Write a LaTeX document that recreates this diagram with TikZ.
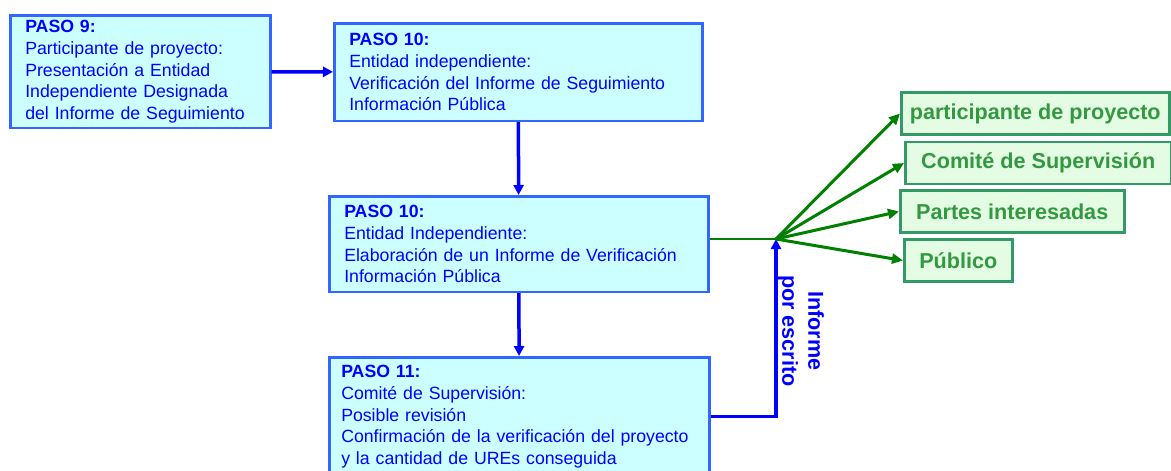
\documentclass[tikz,border=0pt]{standalone}
\usepackage{fontspec}
\setmainfont{Liberation Sans}
\usepackage{xcolor}
\usepackage{tikz}
\usetikzlibrary{arrows.meta, positioning}

\definecolor{pasofill}{HTML}{CCFFFF}
\definecolor{pasoline}{HTML}{3366FF}
\definecolor{pasotext}{HTML}{0000FF}
\definecolor{destfill}{HTML}{E3FCE3}
\definecolor{destline}{HTML}{339966}
\definecolor{desttext}{HTML}{339940}
\definecolor{flecha}{HTML}{008000}

\begin{document}
\begin{tikzpicture}[x=1pt, y=-1pt,
            paso/.style={draw=pasoline, line width=2.5pt, fill=pasofill, text=pasotext, rectangle,
                anchor=north west, align=left, inner xsep=15pt, text width=#1,
                font=\fontsize{17.7}{21.7}\selectfont},
            dest/.style={draw=destline, line width=2.5pt, fill=destfill, text=desttext, rectangle,
                anchor=west, minimum height=42pt, minimum width=#1,
                font=\fontsize{21.6}{26}\selectfont\bfseries},
            azul/.style={-{Triangle[length=10pt, width=10pt]}, line width=3.5pt, pasotext},
            verde/.style={-{Triangle[length=11pt, width=10pt]}, line width=3pt, flecha}]

            \useasboundingbox (0,0) rectangle (1171,471);

            % pasos
            \node[paso=230pt, inner ysep=5pt] (paso9) at (9,14) {
                \textbf{PASO 9:}\\
                Participante de proyecto:\\
                Presentación a Entidad\\
                Independiente Designada\\
                del Informe de Seguimiento
            };
            \node[paso=338pt, inner ysep=10pt] (paso10a) at (333,22) {
                \textbf{PASO 10:}\\
                Entidad independiente:\\
                Verificación del Informe de Seguimiento\\
                Información Pública
            };
            \node[paso=349pt, inner ysep=9pt] (paso10b) at (328,195) {
                \textbf{PASO 10:}\\
                Entidad Independiente:\\
                Elaboración de un Informe de Verificación\\
                Información Pública
            };
            \node[paso=356pt, inner xsep=12pt, inner ysep=8pt] (paso11) at (328,356) {
                \textbf{PASO 11:}\\
                Comité de Supervisión:\\
                Posible revisión\\
                Confirmación de la verificación del proyecto\\
                y la cantidad de UREs conseguida
            };

            % destinatarios
            \node[dest=268pt] (participante) at (900,113.5) {participante de proyecto};
            \node[dest=266pt] (comite) at (904,163) {Comité de Supervisión};
            \node[dest=224pt] (partes) at (899,211.5) {Partes interesadas};
            \node[dest=108pt] (publico) at (903,260.5) {Público};

            \coordinate (reparto) at (776,239);

            \node[rotate=-90, inner sep=0pt, align=center, text=pasotext,
                font=\fontsize{21.6}{26}\selectfont\bfseries] (informe) at (801,331) {Informe\\por escrito};

            \draw[azul] (paso9) -- (paso10a);
            \draw[azul] (paso10a) -- (paso10b);
            \draw[azul] (paso10b) -- (paso11);
            \draw[azul] (paso11.east) -| (reparto);

            \draw[line width=2.5pt, flecha] (paso10b.east |- reparto) -- (reparto);
            \draw[verde] (reparto) -- (participante.west);
            \draw[verde] (reparto) -- (comite.west);
            \draw[verde] (reparto) -- (partes.west);
            \draw[verde] (reparto) -- (publico.west);
        \end{tikzpicture}
\end{document}
